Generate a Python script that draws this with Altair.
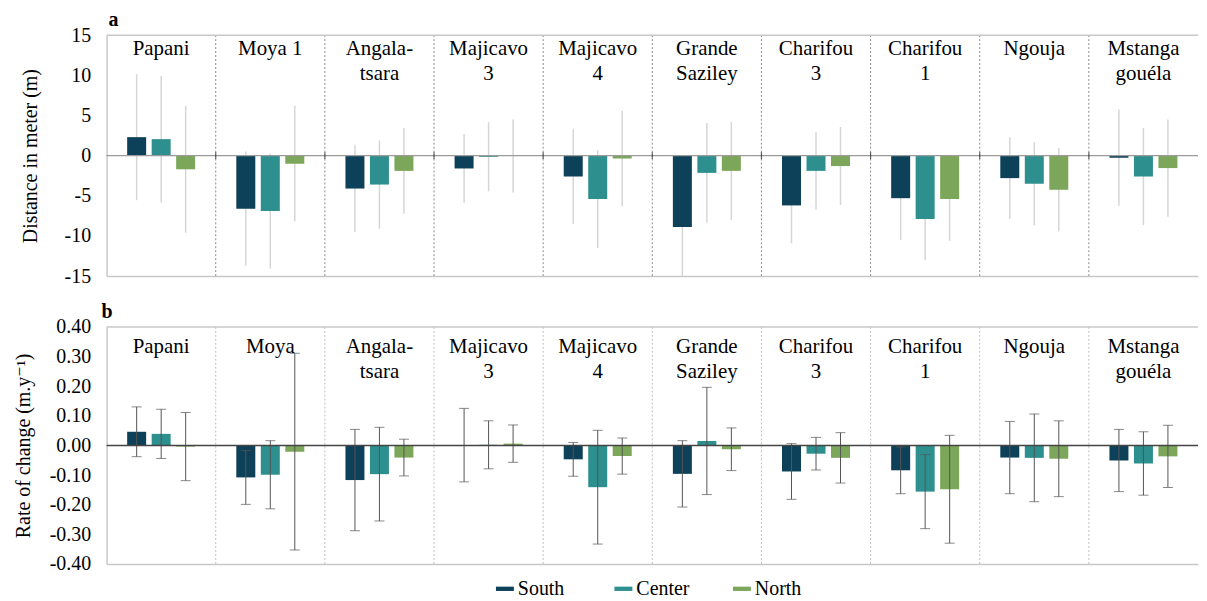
import altair as alt
import pandas as pd

# ---------------- data ----------------
site_ids = ["Papani", "Moya", "Angala-tsara", "Majicavo 3", "Majicavo 4",
            "Grande Saziley", "Charifou 3", "Charifou 1", "Ngouja", "Mstanga gouéla"]
labels_a = ["Papani", "Moya 1", "Angala-\ntsara", "Majicavo\n3", "Majicavo\n4",
            "Grande\nSaziley", "Charifou\n3", "Charifou\n1", "Ngouja", "Mstanga\ngouéla"]
labels_b = ["Papani", "Moya", "Angala-\ntsara", "Majicavo\n3", "Majicavo\n4",
            "Grande\nSaziley", "Charifou\n3", "Charifou\n1", "Ngouja", "Mstanga\ngouéla"]
series = ["South", "Center", "North"]
colors = ["#0d4159", "#2e8f8f", "#7ca75a"]

# panel a: distance in meter (mean and standard deviation)
dist_south = [2.3, -6.6, -4.1, -1.6, -2.6, -8.9, -6.2, -5.3, -2.8, -0.25]
dist_center = [2.05, -6.9, -3.6, -0.15, -5.4, -2.15, -1.9, -7.9, -3.5, -2.6]
dist_north = [-1.7, -1.0, -1.9, -0.05, -0.35, -1.9, -1.3, -5.4, -4.25, -1.55]
dist_sd_south = [7.85, 7.1, 5.4, 4.3, 5.9, 6.1, 4.7, 5.2, 5.1, 6.0]
dist_sd_center = [7.9, 7.15, 5.5, 4.3, 6.1, 6.2, 4.8, 5.1, 5.2, 6.05]
dist_sd_north = [7.9, 7.2, 5.35, 4.55, 5.95, 6.1, 4.85, 5.2, 5.2, 6.05]

# panel b: rate of change (mean and standard deviation)
rate_south = [0.046, -0.108, -0.117, 0.001, -0.047, -0.096, -0.088, -0.084, -0.041, -0.051]
rate_center = [0.039, -0.099, -0.097, 0.002, -0.141, 0.015, -0.028, -0.156, -0.042, -0.061]
rate_north = [-0.004, -0.021, -0.041, 0.006, -0.036, -0.013, -0.042, -0.148, -0.045, -0.037]
rate_sd_south = [0.084, 0.091, 0.171, 0.124, 0.057, 0.112, 0.094, 0.079, 0.122, 0.105]
rate_sd_center = [0.083, 0.115, 0.158, 0.081, 0.192, 0.181, 0.055, 0.125, 0.148, 0.107]
rate_sd_north = [0.115, 0.332, 0.062, 0.063, 0.061, 0.072, 0.085, 0.182, 0.128, 0.105]

ticks_a = [-15, -10, -5, 0, 5, 10, 15]
ticks_b = [-0.4, -0.3, -0.2, -0.1, 0.0, 0.1, 0.2, 0.3, 0.4]

FONT = "Liberation Serif, Times New Roman, DejaVu Serif, serif"


def long_df(means, sds):
    rows = []
    for s, m_list, sd_list in zip(series, means, sds):
        for site, m, sd in zip(site_ids, m_list, sd_list):
            rows.append(dict(site=site, series=s, mean=m, lo=m - sd, hi=m + sd))
    return pd.DataFrame(rows)


df_a = long_df([dist_south, dist_center, dist_north],
               [dist_sd_south, dist_sd_center, dist_sd_north])
df_b = long_df([rate_south, rate_center, rate_north],
               [rate_sd_south, rate_sd_center, rate_sd_north])

W = 1096

LEGEND = alt.Legend(orient="none", legendX=390, legendY=546,
                    direction="horizontal", title=None,
                    symbolType="M-1,-0.24H1V0.24H-1Z", symbolSize=324,
                    symbolStrokeWidth=0, labelFont=FONT, labelFontSize=20,
                    labelColor="black", gridAlign="all", columnPadding=42,
                    labelOffset=3, labelLimit=200)


def panel(df, labels, ticks, fmt, ytitle, letter, letter_x, err_color, err_width,
          caps, err_on_top, div_color, zero_color, zero_width, label_y, title_pad,
          height, zero_ticks):
    ymin, ymax = ticks[0], ticks[-1]
    x = alt.X("site:N", sort=site_ids,
              scale=alt.Scale(paddingInner=0, paddingOuter=0),
              axis=alt.Axis(labels=False, ticks=False, title=None,
                            domainColor="#c8c8c8", domainWidth=1.5, grid=False))
    xb = alt.X("site:N", sort=site_ids, bandPosition=0)
    xo = alt.XOffset("series:N", sort=series,
                     scale=alt.Scale(paddingInner=0.2245, paddingOuter=0.84))
    yscale = alt.Scale(domain=[ymin, ymax], nice=False)
    yaxis = alt.Axis(values=ticks, title=ytitle, ticks=False, grid=False,
                     labelOverlap=False, tickCount=len(ticks),
                     labelExpr="(datum.value < 0 ? '-' : '') + format(abs(datum.value), '%s')" % fmt,
                     labelFont=FONT, labelFontSize=20, labelColor="black", labelPadding=16,
                     titleFont=FONT, titleFontSize=20, titleFontWeight="normal",
                     titleColor="black", titlePadding=title_pad,
                     domainColor="#c8c8c8", domainWidth=1.5)
    color = alt.Color("series:N", sort=series,
                      scale=alt.Scale(domain=series, range=colors), legend=LEGEND)

    one = pd.DataFrame({"v": [ymax]})
    divs = alt.Chart(pd.DataFrame({"site": site_ids[1:]})).mark_rule(
        color=div_color, strokeDash=[2, 2], strokeWidth=1).encode(x=xb)
    top = alt.Chart(one).mark_rule(color="#c8c8c8", strokeWidth=1.5).encode(
        y=alt.Y("v:Q", scale=yscale, axis=yaxis))
    bars = alt.Chart(df).mark_bar().encode(
        x=x, xOffset=xo, y=alt.Y("mean:Q", scale=yscale, axis=yaxis),
        y2=alt.datum(0), color=color)
    errs = alt.Chart(df).mark_rule(color=err_color, strokeWidth=err_width).encode(
        x=x, xOffset=xo, y=alt.Y("lo:Q", scale=yscale, axis=yaxis), y2="hi:Q")
    if err_on_top:
        layers = [divs, top, bars, errs]
    else:
        layers = [divs, top, errs, bars]
    if caps:
        for f in ["lo", "hi"]:
            layers.append(alt.Chart(df).mark_tick(
                orient="horizontal", size=10, thickness=1, color=err_color).encode(
                x=x, xOffset=xo, y=alt.Y(f + ":Q", scale=yscale, axis=yaxis)))
    zero = alt.Chart(one).mark_rule(color=zero_color, strokeWidth=zero_width).encode(
        y=alt.YDatum(0, axis=yaxis))
    layers.append(zero)
    if zero_ticks:
        layers.append(alt.Chart(pd.DataFrame({"site": site_ids[1:]})).mark_tick(
            orient="vertical", size=7, thickness=1.2, color="#222").encode(
            x=xb, y=alt.YDatum(0, axis=yaxis)))
    txt = alt.Chart(pd.DataFrame({"site": site_ids, "label": labels})).mark_text(
        baseline="top", fontSize=21, font=FONT, lineBreak="\n", lineHeight=25,
        color="black").encode(x=alt.X("site:N", sort=site_ids),
                              y=alt.value(label_y), text="label:N")
    let = alt.Chart(pd.DataFrame({"t": [letter]})).mark_text(
        align="left", baseline="alphabetic", fontSize=20, fontWeight="bold",
        font=FONT, color="black").encode(x=alt.value(letter_x), y=alt.value(-9),
                                         text="t:N")
    layers += [txt, let]
    return alt.layer(*layers).properties(width=W, height=height)


pa = panel(df_a, labels_a, ticks_a, "d", "Distance in meter (m)", "a", 2,
           "#d6d6d6", 1.5, False, False, "#8a8a8a", "#9a9a9a", 1.5, 3, 24, 242, True)
pb = panel(df_b, labels_b, ticks_b, ".2f", "Rate of change (m.y⁻¹)", "b", -5,
           "#555555", 1, True, True, "#bdbdbd", "#444444", 1.5, 9, 16, 238, False)

chart = alt.vconcat(pa, pb, spacing=16).properties(
    padding={"left": 5, "top": 1, "right": 0, "bottom": 0}
).configure_view(strokeOpacity=0)

chart.save("out.html", embed_options={"renderer": "svg", "actions": False})
